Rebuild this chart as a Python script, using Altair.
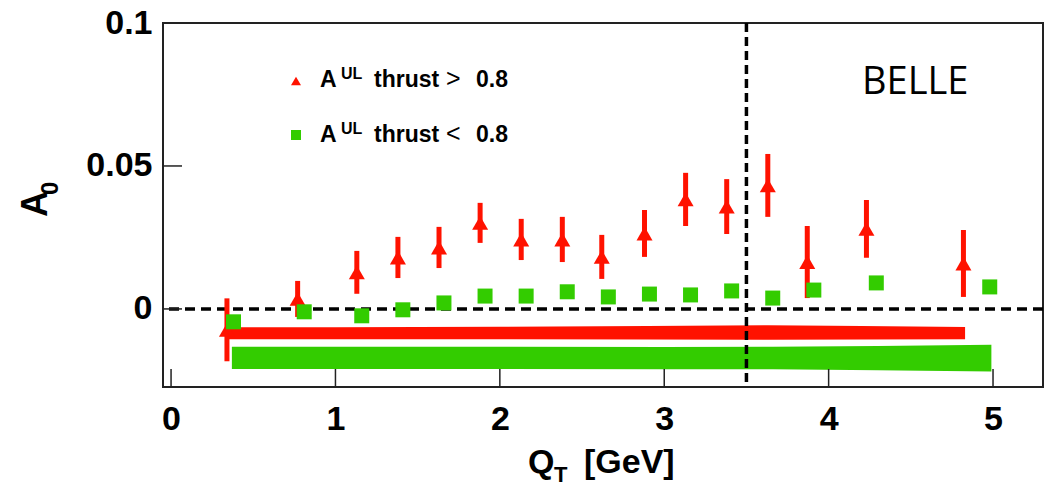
import altair as alt
import pandas as pd

# ---- data ----
qt_red = [0.34, 0.77, 1.13, 1.38, 1.63, 1.88, 2.13, 2.38, 2.62, 2.88, 3.13, 3.38, 3.63, 3.87, 4.23, 4.82]
a0_red = [-0.0073, 0.0035, 0.0128, 0.0180, 0.0215, 0.0301, 0.0243, 0.0243, 0.0182, 0.0264,
          0.0383, 0.0358, 0.0432, 0.0164, 0.0280, 0.0159]
err_red = [0.0110, 0.0063, 0.0075, 0.0072, 0.0072, 0.0070, 0.0072, 0.0079, 0.0077, 0.0082,
           0.0093, 0.0096, 0.0110, 0.0126, 0.0101, 0.0117]

qt_green = [0.38, 0.81, 1.16, 1.41, 1.66, 1.91, 2.16, 2.41, 2.66, 2.91, 3.16, 3.41, 3.66, 3.91, 4.29, 4.98]
a0_green = [-0.0045, -0.0010, -0.0024, -0.0003, 0.0021, 0.0045, 0.0045, 0.0060, 0.0042, 0.0052,
            0.0049, 0.0063, 0.0038, 0.0066, 0.0091, 0.0077]

band_red_x = [0.34, 1.0, 2.0, 2.9, 3.63, 4.2, 4.83]
band_red_hi = [-0.0064, -0.0064, -0.0062, -0.0060, -0.0057, -0.0060, -0.0063]
band_red_lo = [-0.0106, -0.0106, -0.0106, -0.0107, -0.0108, -0.0107, -0.0106]

band_green_x = [0.37, 1.0, 2.0, 3.0, 3.66, 4.3, 4.99]
band_green_hi = [-0.0132, -0.0132, -0.0132, -0.0133, -0.0132, -0.0130, -0.0125]
band_green_lo = [-0.0210, -0.0210, -0.0210, -0.0211, -0.0211, -0.0214, -0.0219]

x_ticks = [0, 1, 2, 3, 4, 5]
y_ticks = [0, 0.05, 0.1]
v_line = [3.5]
h_line = [0]

RED = "#ff1200"
GREEN = "#33cc00"
FONT = "Liberation Sans"

W, H = 880, 364

xs = alt.Scale(domain=[-0.049, 5.304], nice=False, zero=False)
ys = alt.Scale(domain=[-0.0273, 0.1], nice=False, zero=False)

xaxis = alt.Axis(values=x_ticks, ticks=False, domain=False, grid=False, title=None,
                 labelFont=FONT, labelFontSize=34, labelFontWeight="bold", labelColor="black",
                 labelPadding=15, labelFlush=False, labelOverlap=False, format="d")
yaxis = alt.Axis(values=y_ticks, ticks=False, domain=False, grid=False, title=None,
                 labelFont=FONT, labelFontSize=34, labelFontWeight="bold", labelColor="black",
                 labelPadding=11, labelFlush=False, labelOverlap=False, format="~g")


def X(f):
    return alt.X(f, type="quantitative", scale=xs, axis=xaxis)


def Y(f):
    return alt.Y(f, type="quantitative", scale=ys, axis=yaxis)


red_df = pd.DataFrame({"q": qt_red, "a": a0_red,
                       "lo": [a - e for a, e in zip(a0_red, err_red)],
                       "hi": [a + e for a, e in zip(a0_red, err_red)]})
green_df = pd.DataFrame({"q": qt_green, "a": a0_green})
bred_df = pd.DataFrame({"q": band_red_x, "lo": band_red_lo, "hi": band_red_hi})
bgreen_df = pd.DataFrame({"q": band_green_x, "lo": band_green_lo, "hi": band_green_hi})

band_red = alt.Chart(bred_df).mark_area(color=RED, opacity=1).encode(
    x=X("q"), y=Y("lo"), y2="hi")
band_green = alt.Chart(bgreen_df).mark_area(color=GREEN, opacity=1).encode(
    x=X("q"), y=Y("lo"), y2="hi")

hline = alt.Chart(pd.DataFrame({"v": h_line})).mark_rule(
    color="black", strokeWidth=3.5, strokeDash=[10, 6]).encode(y=Y("v"))
vline = alt.Chart(pd.DataFrame({"v": v_line})).mark_rule(
    color="black", strokeWidth=3.5, strokeDash=[9, 5]).encode(x=X("v"))

xtick = alt.Chart(pd.DataFrame({"v": x_ticks})).mark_rule(color="#222", strokeWidth=1.5).encode(
    x=X("v"), y=alt.value(H - 18), y2=alt.value(H))
ytick = alt.Chart(pd.DataFrame({"v": y_ticks[:2]})).mark_rule(color="#222", strokeWidth=1.5).encode(
    y=Y("v"), x=alt.value(0), x2=alt.value(19))

errbars = alt.Chart(red_df).mark_rule(color=RED, strokeWidth=5).encode(
    x=X("q"), y=Y("lo"), y2="hi")
tri = alt.Chart(red_df).mark_point(shape="triangle-up", filled=True, color=RED,
                                   size=256, opacity=1).encode(x=X("q"), y=Y("a"))
sq = alt.Chart(green_df).mark_point(shape="square", filled=True, color=GREEN,
                                    size=225, opacity=1).encode(x=X("q"), y=Y("a"))


def txt(s, x, y, size, weight="bold", font=FONT, angle=0, align="left", baseline="alphabetic"):
    kw = dict(align=align, baseline=baseline, font=font, fontSize=size,
              fontWeight=weight, color="black")
    if angle:
        kw["angle"] = angle
    return alt.Chart(pd.DataFrame({"t": [s]})).mark_text(**kw).encode(
        text="t:N", x=alt.value(x), y=alt.value(y))


def sym(shape, color, x, y, size):
    return alt.Chart(pd.DataFrame({"t": [shape]})).mark_point(
        shape=shape, filled=True, color=color, size=size, opacity=1).encode(
        x=alt.value(x), y=alt.value(y))


labels = [
    # legend
    sym("triangle-up", RED, 133, 58, 100),
    txt("A", 157, 64, 23), txt("UL", 178, 56, 16), txt("thrust", 211, 64, 23),
    txt(">", 283, 64, 25, weight="normal"), txt("0.8", 313, 64, 23),
    sym("square", GREEN, 133, 112, 100),
    txt("A", 157, 119, 23), txt("UL", 178, 111, 16), txt("thrust", 211, 119, 23),
    txt("<", 283, 119, 25, weight="normal"), txt("0.8", 313, 119, 23),
    # BELLE
    txt("BELLE", 699, 71, 38, weight="normal", font="Open Sans"),
    # x title
    txt("Q", 365, 450, 34), txt("T", 391, 459, 22), txt("[GeV]", 421, 450, 34),
    # y title
    txt("A", -116, 194, 36, angle=270), txt("0", -105, 172, 24, angle=270),
]

chart = alt.layer(band_red, band_green, hline, vline, xtick, ytick, errbars, tri, sq, *labels).properties(
    width=W, height=H,
    autosize=alt.AutoSizeParams(type="none"),
    padding={"left": 163, "top": 23, "right": 3, "bottom": 99},
    background="white",
).configure_view(stroke="#222", strokeWidth=2)

chart.save("out.html", embed_options={"renderer": "svg", "actions": False})
